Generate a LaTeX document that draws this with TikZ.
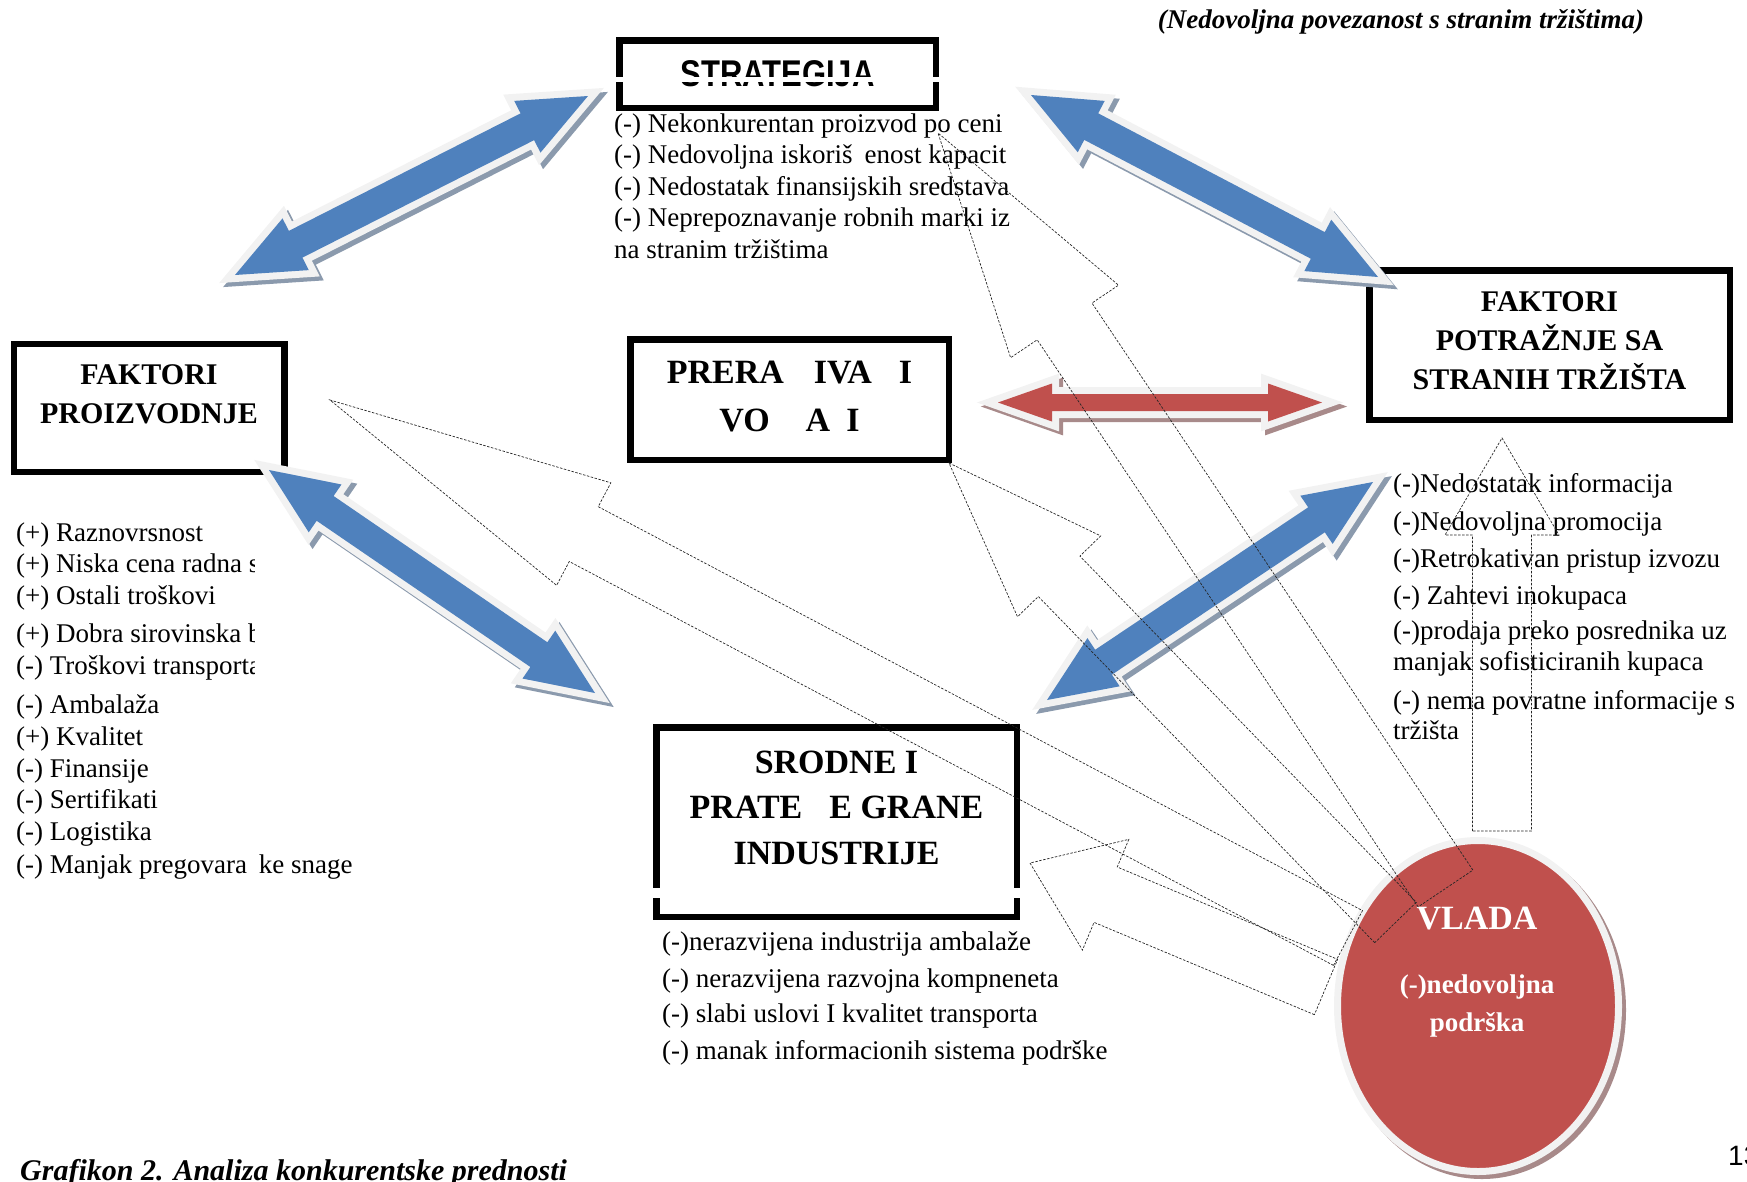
\documentclass[tikz,border=0pt]{standalone}
\usepackage{graphicx}
\usepackage{fontspec}
\setmainfont{Liberation Serif}
\setsansfont{Liberation Sans}
\usetikzlibrary{calc,shapes.geometric}

\definecolor{arrowblue}{HTML}{4F81BD}
\definecolor{arrowred}{HTML}{C0504D}
\definecolor{rimgrey}{HTML}{F2F2F2}
\definecolor{blueshade}{HTML}{8B9AAD}
\definecolor{redshade}{HTML}{A88A8A}

\tikzset{
  frame/.style={draw, line width=6.5pt, fill=white, inner sep=0pt,
    font=\bfseries\fontsize{30}{39}\selectfont},
  item/.style={inner sep=0pt, anchor=base west, font=\fontsize{27}{31}\selectfont},
  hint/.style={draw=black!85, line width=0.7pt, dash pattern=on 2.5pt off 1.5pt},
}

% double headed block arrow: fill, shade, tip, tip, shaft half, head half, head length
\newcommand{\twoway}[7]{%
  \coordinate (hb1) at ($(#3)!#7!(#4)$);
  \coordinate (hb2) at ($(#4)!#7!(#3)$);
  \def\twowaypath{(#3) -- ($(hb1)!#6!90:(#4)$) -- ($(hb1)!#5!90:(#4)$)
    -- ($(hb2)!#5!-90:(#3)$) -- ($(hb2)!#6!-90:(#3)$) -- (#4)
    -- ($(hb2)!#6!90:(#3)$) -- ($(hb2)!#5!90:(#3)$)
    -- ($(hb1)!#5!-90:(#4)$) -- ($(hb1)!#6!-90:(#4)$) -- cycle}%
  \filldraw[#2, line width=14pt, transform canvas={xshift=4pt, yshift=-4pt}] \twowaypath;
  \filldraw[rimgrey, line width=14pt] \twowaypath;
  \fill[#1] \twowaypath;
}

% dashed block arrow: tail, tip, shaft half, head half, head length
\newcommand{\oneway}[5]{%
  \coordinate (hb) at ($(#2)!#5!(#1)$);
  \draw[hint] ($(#1)!#3!90:(#2)$) -- ($(hb)!#3!90:(#2)$) -- ($(hb)!#4!90:(#2)$) -- (#2)
    -- ($(hb)!#4!-90:(#2)$) -- ($(hb)!#3!-90:(#2)$) -- ($(#1)!#3!-90:(#2)$) -- cycle;
}

\begin{document}
\begin{tikzpicture}[x=1pt, y=-1pt]
\useasboundingbox (0,0) rectangle (1747,1181);

\node[inner sep=0pt, anchor=base, font=\bfseries\itshape\fontsize{27}{32}\selectfont] (title) at (1401,28.5) {(Nedovoljna povezanost s stranim tržištima)};

% boxes
\node[frame, minimum width=316.5pt, minimum height=67.5pt, font=\sffamily\bfseries\fontsize{31}{31}\selectfont] (strat) at (777.5,74) {\scalebox{1}[1.2]{STRATEGIJA}};
\fill[white] (608,77) rectangle (947,82);

\node[frame] (prerada) at (789.5,399.5) {\parbox[c][120.5pt][t]{318.5pt}{\centering\fontsize{34}{48}\selectfont\vspace*{22pt}PRERA\hspace{30pt}IVA\hspace{27pt}I\\VO\hspace{36pt}A\hspace{16pt}I}};

\node[frame] (proizv) at (149,408.1) {\parbox[c][128.2pt][t]{270.5pt}{\centering\vspace*{21pt}FAKTORI\\PROIZVODNJE}};

\node[frame] (potraz) at (1549.5,345) {\parbox[c][149.5pt][t]{360.5pt}{\centering\vspace*{21.8pt}FAKTORI\\POTRAŽNJE SA\\STRANIH TRŽIŠTA}};

\node[frame] (srodne) at (836.5,822) {\parbox[c][189.5pt][t]{360.5pt}{\centering\fontsize{34}{45.5}\selectfont\vspace*{23.5pt}SRODNE I\\PRATE\hspace{27pt}E GRANE\\INDUSTRIJE}};
\fill[white] (648,888) rectangle (1025,898);

% lists
\begin{scope}
\clip (600,100) rectangle (1012,275);
\foreach \y/\t [count=\i] in {132/{(-) Nekonkurentan proizvod po ceni},
  163.5/{(-) Nedovoljna iskoriš\hspace{0.44em}enost kapacit},
  195/{(-) Nedostatak finansijskih sredstava},
  226.5/{(-) Neprepoznavanje robnih marki iz},
  258/{na stranim tržištima}}
  \node[item] (stratitem\i) at (614,\y) {\t};
\end{scope}

\begin{scope}
\clip (0,500) rectangle (254,690);
\foreach \y/\t [count=\i] in {541/{(+) Raznovrsnost}, 572/{(+) Niska cena radna snage},
  604/{(+) Ostali troškovi}, 642/{(+) Dobra sirovinska baza}, 674/{(-) Troškovi transporta}}
  \node[item] (factor\i) at (16,\y) {\t};
\end{scope}
\foreach \y/\t [count=\i from 6] in {713/{(-) Ambalaža}, 745/{(+) Kvalitet}, 777/{(-) Finansije},
  808/{(-) Sertifikati}, 840/{(-) Logistika}, 873/{(-) Manjak pregovara\hspace{0.44em}ke snage}}
  \node[item] (factor\i) at (16,\y) {\t};

\foreach \y/\t [count=\i] in {492/{(-)Nedostatak informacija}, 530/{(-)Nedovoljna promocija},
  567/{(-)Retrokativan pristup izvozu}, 604/{(-) Zahtevi inokupaca},
  639/{(-)prodaja preko posrednika uz}, 670/{manjak sofisticiranih kupaca},
  709/{(-) nema povratne informacije s}, 739/{tržišta}}
  \node[item] (demand\i) at (1393,\y) {\t};

\foreach \y/\t [count=\i] in {950/{(-)nerazvijena industrija ambalaže},
  987/{(-) nerazvijena razvojna kompneneta},
  1022/{(-) slabi uslovi I kvalitet transporta},
  1059/{(-) manak informacionih sistema podrške}}
  \node[item] (related\i) at (662,\y) {\t};

% block arrows
\coordinate (tlA) at (235,275);  \coordinate (tlB) at (588,96);
\coordinate (trA) at (1031,95);  \coordinate (trB) at (1378,277);
\coordinate (blA) at (269,470);  \coordinate (blB) at (595,693);
\coordinate (brA) at (1047,700); \coordinate (brB) at (1373,482);
\coordinate (rdA) at (998,402.5); \coordinate (rdB) at (1322,402.5);
\twoway{arrowblue}{blueshade}{tlA}{tlB}{15pt}{29pt}{68pt}
\twoway{arrowblue}{blueshade}{trA}{trB}{15pt}{29pt}{68pt}
\twoway{arrowblue}{blueshade}{blA}{blB}{15pt}{29pt}{68pt}
\twoway{arrowblue}{blueshade}{brA}{brB}{15pt}{29pt}{68pt}
\twoway{arrowred}{redshade}{rdA}{rdB}{8.5pt}{19pt}{54pt}

% government
\fill[redshade] (1482,1010) ellipse [x radius=144, y radius=169];
\node[ellipse, draw=rimgrey, line width=7pt, fill=arrowred, minimum width=281pt, minimum height=331pt, inner sep=0pt] (vlada) at (1478,1006) {};
\node[inner sep=0pt, anchor=base, text=white, font=\bfseries\fontsize{34}{34}\selectfont] (vladaname) at (1477,929) {VLADA};
\node[inner sep=0pt, anchor=north, align=center, text=white, font=\bfseries\fontsize{27}{38}\selectfont] (vladanote) at (1477,975) {(-)nedovoljna\\podrška};

% dashed arrows from the government
\coordinate (govA) at (1348,938);    \coordinate (tipA) at (330,400);
\coordinate (govB) at (1445.5,888.5); \coordinate (tipB) at (938,133);
\coordinate (govC) at (1395.5,922.5); \coordinate (tipC) at (949,463);
\coordinate (govD) at (1502,831);    \coordinate (tipD) at (1502,438);
\coordinate (govE) at (1326,987);    \coordinate (tipE) at (1030,863);
\oneway{govA}{tipA}{31pt}{58pt}{287pt}
\oneway{govB}{tipB}{33pt}{65pt}{227pt}
\oneway{govC}{tipC}{29pt}{58pt}{158pt}
\oneway{govD}{tipD}{29.5pt}{57pt}{97pt}
\oneway{govE}{tipE}{30pt}{60pt}{82pt}

\node[inner sep=0pt, anchor=base west, font=\bfseries\itshape\fontsize{30}{36}\selectfont] (caption) at (20,1180) {Grafikon 2. Analiza konkurentske prednosti};
\node[inner sep=0pt, anchor=base west, font=\sffamily\fontsize{28}{28}\selectfont] (pagenum) at (1728,1165) {13};

\end{tikzpicture}
\end{document}
